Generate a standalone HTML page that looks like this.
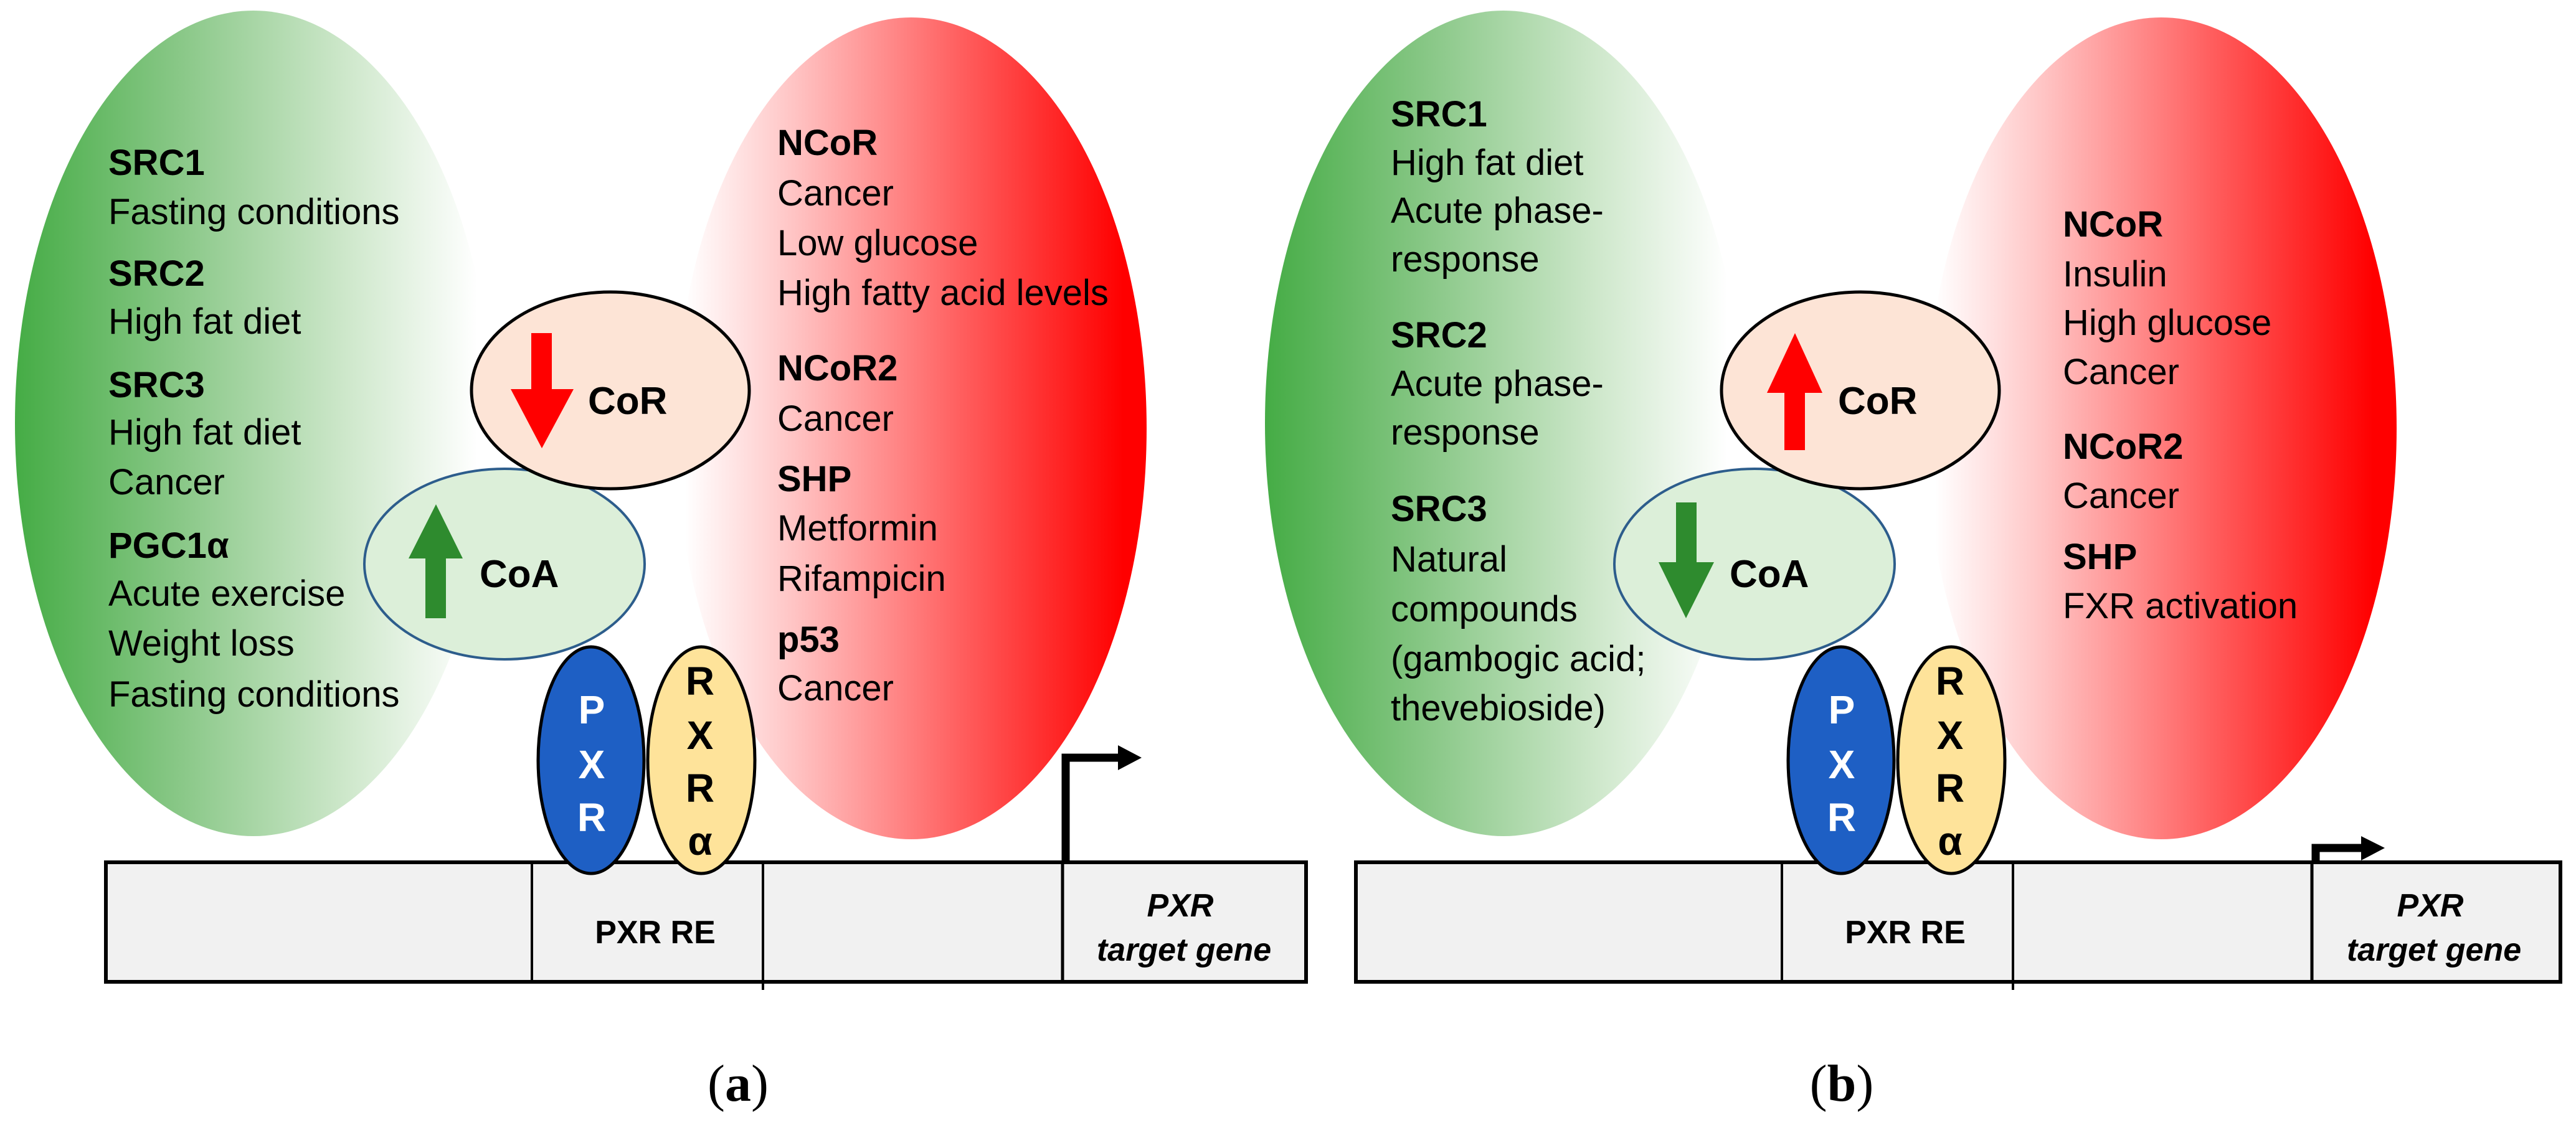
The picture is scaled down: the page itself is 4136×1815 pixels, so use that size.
<!DOCTYPE html>
<html><head><meta charset="utf-8"><style>
html,body{margin:0;padding:0;background:#fff;}
svg{display:block;}
text{font-family:"Liberation Sans",sans-serif;}
</style></head><body>
<svg width="4136" height="1815" viewBox="0 0 4136 1815" xmlns="http://www.w3.org/2000/svg">
<defs>
<linearGradient id="gr" x1="0" x2="1" y1="0" y2="0">
<stop offset="0" stop-color="#45ac45"/><stop offset="0.35" stop-color="#8ac888"/><stop offset="0.7" stop-color="#cfe8cc"/><stop offset="0.97" stop-color="#ffffff"/>
</linearGradient>
<linearGradient id="rd" x1="0" x2="1" y1="0" y2="0">
<stop offset="0.02" stop-color="#ffffff"/><stop offset="0.25" stop-color="#ffc4c4"/><stop offset="0.6" stop-color="#ff6060"/><stop offset="0.95" stop-color="#ff0000"/>
</linearGradient>
</defs>

<g id="A">
<ellipse cx="407" cy="680" rx="383" ry="663" fill="url(#gr)"/>
<ellipse cx="1463" cy="688" rx="378" ry="660" fill="url(#rd)"/>
</g>
<!-- panel a -->
<ellipse cx="810" cy="906" rx="225" ry="153" fill="#dcefd9" stroke="#2d5d8c" stroke-width="4"/>
<ellipse cx="980" cy="627" rx="223" ry="158" fill="#fde4d6" stroke="#000" stroke-width="5"/>
<polygon points="853,535 886,535 886,625 921,625 870,720 820,625 853,625" fill="#ff0000"/>
<polygon points="683,993 716,993 716,897 743,897 700,810 656,897 683,897" fill="#2e8b2e"/>
<text x="944" y="665" font-size="62" font-weight="bold">CoR</text>
<text x="770" y="943" font-size="62" font-weight="bold">CoA</text>

<g font-size="58">
<text x="174" y="281" font-weight="bold">SRC1</text>
<text x="174" y="360">Fasting conditions</text>
<text x="174" y="459" font-weight="bold">SRC2</text>
<text x="174" y="536">High fat diet</text>
<text x="174" y="638" font-weight="bold">SRC3</text>
<text x="174" y="714">High fat diet</text>
<text x="174" y="794">Cancer</text>
<text x="174" y="896" font-weight="bold">PGC1α</text>
<text x="174" y="973">Acute exercise</text>
<text x="174" y="1053">Weight loss</text>
<text x="174" y="1135">Fasting conditions</text>

<text x="1248" y="249" font-weight="bold">NCoR</text>
<text x="1248" y="330">Cancer</text>
<text x="1248" y="410">Low glucose</text>
<text x="1248" y="490">High fatty acid levels</text>
<text x="1248" y="611" font-weight="bold">NCoR2</text>
<text x="1248" y="692">Cancer</text>
<text x="1248" y="789" font-weight="bold">SHP</text>
<text x="1248" y="868">Metformin</text>
<text x="1248" y="949">Rifampicin</text>
<text x="1248" y="1047" font-weight="bold">p53</text>
<text x="1248" y="1125">Cancer</text>
</g>

<rect x="170" y="1385" width="1927" height="192" fill="#f1f1f1" stroke="#000" stroke-width="6"/>
<line x1="854" y1="1385" x2="854" y2="1577" stroke="#000" stroke-width="4"/>
<line x1="1225" y1="1385" x2="1225" y2="1590" stroke="#000" stroke-width="4"/>
<line x1="1706" y1="1385" x2="1706" y2="1577" stroke="#000" stroke-width="5"/>
<path d="M1711,1385 V1217 H1798" fill="none" stroke="#000" stroke-width="13"/>
<polygon points="1795,1197 1833,1217 1795,1237" fill="#000"/>

<ellipse cx="949" cy="1221" rx="85" ry="182" fill="#1e5fc4" stroke="#000" stroke-width="5"/>
<ellipse cx="1126" cy="1221" rx="86" ry="182" fill="#fee39a" stroke="#000" stroke-width="5"/>
<g font-size="64" font-weight="bold" text-anchor="middle">
<text x="950" y="1162" fill="#fff">P</text>
<text x="950" y="1250" fill="#fff">X</text>
<text x="950" y="1335" fill="#fff">R</text>
<text x="1124" y="1116">R</text>
<text x="1124" y="1203">X</text>
<text x="1124" y="1288">R</text>
<text x="1124" y="1373">α</text>
</g>
<text x="1052" y="1515" font-size="52" font-weight="bold" text-anchor="middle">PXR RE</text>
<text x="1895" y="1472" font-size="52" font-weight="bold" font-style="italic" text-anchor="middle">PXR</text>
<text x="1901" y="1543" font-size="52" font-weight="bold" font-style="italic" text-anchor="middle">target gene</text>
<text x="1185" y="1768" font-size="84" text-anchor="middle" style="font-family:'Liberation Serif',serif">(<tspan font-weight="bold">a</tspan>)</text>

<!-- panel b -->
<use href="#A" transform="translate(2007,0)"/>
<ellipse cx="2817" cy="906" rx="225" ry="153" fill="#dcefd9" stroke="#2d5d8c" stroke-width="4"/>
<ellipse cx="2987" cy="627" rx="223" ry="158" fill="#fde4d6" stroke="#000" stroke-width="5"/>
<polygon points="2865,723 2898,723 2898,631 2926,631 2882,535 2837,631 2865,631" fill="#ff0000"/>
<polygon points="2691,807 2724,807 2724,903 2752,903 2707,993 2663,903 2691,903" fill="#2e8b2e"/>
<text x="2951" y="665" font-size="62" font-weight="bold">CoR</text>
<text x="2777" y="943" font-size="62" font-weight="bold">CoA</text>

<g font-size="58">
<text x="2233" y="203" font-weight="bold">SRC1</text>
<text x="2233" y="281">High fat diet</text>
<text x="2233" y="358">Acute phase-</text>
<text x="2233" y="436">response</text>
<text x="2233" y="558" font-weight="bold">SRC2</text>
<text x="2233" y="636">Acute phase-</text>
<text x="2233" y="714">response</text>
<text x="2233" y="837" font-weight="bold">SRC3</text>
<text x="2233" y="918">Natural</text>
<text x="2233" y="998">compounds</text>
<text x="2233" y="1078">(gambogic acid;</text>
<text x="2233" y="1157">thevebioside)</text>

<text x="3312" y="380" font-weight="bold">NCoR</text>
<text x="3312" y="460">Insulin</text>
<text x="3312" y="538">High glucose</text>
<text x="3312" y="617">Cancer</text>
<text x="3312" y="737" font-weight="bold">NCoR2</text>
<text x="3312" y="816">Cancer</text>
<text x="3312" y="914" font-weight="bold">SHP</text>
<text x="3312" y="993">FXR activation</text>
</g>

<rect x="2177" y="1385" width="1934" height="192" fill="#f1f1f1" stroke="#000" stroke-width="6"/>
<line x1="2861" y1="1385" x2="2861" y2="1577" stroke="#000" stroke-width="4"/>
<line x1="3232" y1="1385" x2="3232" y2="1590" stroke="#000" stroke-width="4"/>
<line x1="3712" y1="1385" x2="3712" y2="1577" stroke="#000" stroke-width="5"/>
<path d="M3718,1385 V1362 H3795" fill="none" stroke="#000" stroke-width="13"/>
<polygon points="3791,1343 3829,1362 3791,1382" fill="#000"/>

<ellipse cx="2956" cy="1221" rx="85" ry="182" fill="#1e5fc4" stroke="#000" stroke-width="5"/>
<ellipse cx="3133" cy="1221" rx="86" ry="182" fill="#fee39a" stroke="#000" stroke-width="5"/>
<g font-size="64" font-weight="bold" text-anchor="middle">
<text x="2957" y="1162" fill="#fff">P</text>
<text x="2957" y="1250" fill="#fff">X</text>
<text x="2957" y="1335" fill="#fff">R</text>
<text x="3131" y="1116">R</text>
<text x="3131" y="1203">X</text>
<text x="3131" y="1288">R</text>
<text x="3131" y="1373">α</text>
</g>
<text x="3059" y="1515" font-size="52" font-weight="bold" text-anchor="middle">PXR RE</text>
<text x="3902" y="1472" font-size="52" font-weight="bold" font-style="italic" text-anchor="middle">PXR</text>
<text x="3908" y="1543" font-size="52" font-weight="bold" font-style="italic" text-anchor="middle">target gene</text>
<text x="2957" y="1768" font-size="84" text-anchor="middle" style="font-family:'Liberation Serif',serif">(<tspan font-weight="bold">b</tspan>)</text>
</svg>
</body></html>
